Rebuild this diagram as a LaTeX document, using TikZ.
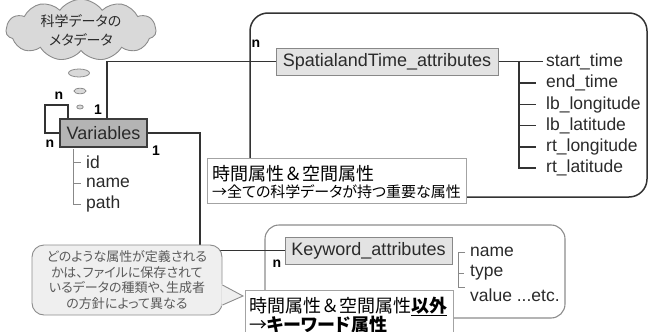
\documentclass[tikz,border=0pt]{standalone}
\usepackage{fontspec}
\setmainfont{Liberation Sans}
\newfontfamily\jp{Noto Sans CJK JP}[RawFeature=+palt]
\newfontfamily\jpf{Noto Sans CJK JP}
\usetikzlibrary{shapes.symbols,shapes.geometric}
\definecolor{linedark}{HTML}{333333}
\definecolor{boxfill}{HTML}{E3E3E3}
\definecolor{boxline}{HTML}{888888}
\definecolor{varfill}{HTML}{B4B4B4}
\definecolor{varline}{HTML}{3C3C3C}
\definecolor{cloudfill}{HTML}{D9D9D9}
\definecolor{softline}{HTML}{8C8C8C}
\definecolor{callfill}{HTML}{EFEFEF}
\definecolor{calltext}{HTML}{5A5A5A}
\definecolor{txt}{HTML}{2A2A2A}
\begin{document}
\begin{tikzpicture}[x=1pt,y=-1pt,
  conn/.style={draw=linedark,line width=1.8pt},
  contA/.style={draw=linedark,line width=1.5pt,rounded corners=18pt},
  contB/.style={draw=softline,line width=1.1pt,rounded corners=14pt},
  attbox/.style={draw=boxline,fill=boxfill,line width=1pt,inner sep=0pt,text=txt,font=\fontsize{18}{20}\selectfont},
  varbox/.style={draw=varline,fill=varfill,line width=1.5pt,inner sep=0pt,text=txt,font=\fontsize{18}{20}\selectfont,minimum width=87pt,minimum height=28pt},
  attr/.style={anchor=west,inner sep=0pt,text=txt,font=\fontsize{17.5}{20}\selectfont},
  darktree/.style={draw=linedark,line width=1.4pt},
  thintree/.style={draw=boxline,line width=0.9pt},
  card/.style={inner sep=0pt,text=black,font=\fontsize{14}{16}\bfseries\selectfont},
  notebox/.style={draw=softline!80,fill=white,line width=0.9pt,anchor=north west,inner sep=0pt},
  noteline/.style={anchor=base west,inner sep=0pt,text=black},
  bubble/.style={ellipse,draw=softline,fill=cloudfill,line width=0.8pt,inner sep=0pt},
  callnode/.style={draw=softline,fill=callfill,line width=0.9pt,rounded corners=12pt,align=center,text=calltext,font=\jp\fontsize{13}{15.7}\selectfont,minimum width=190pt,minimum height=70pt,inner sep=0pt},
  cloudnode/.style={cloud,cloud puffs=11,cloud puff arc=110,aspect=2.8,draw=softline,fill=cloudfill,line width=0.9pt,align=center,text=txt,font=\jp\fontsize{14}{19}\selectfont,minimum width=150pt,minimum height=54pt,inner sep=0pt}
]
\clip (0,0) rectangle (648,332);
% containers
\draw[contA] (250,13) rectangle (647,197);
\draw[contB] (265,225) rectangle (565,318);
% cloud and thought bubbles
\node[cloudnode] (cloud) at (81,30) {科学データの\\メタデータ};
\node[bubble,minimum width=21pt,minimum height=8pt] (b1) at (79,73) {};
\node[bubble,minimum width=12pt,minimum height=5.5pt] (b2) at (80,91) {};
\node[bubble,minimum width=6.5pt,minimum height=4pt] (b3) at (80,107) {};
% main boxes
\node[varbox] (var) at (103.5,133) {Variables};
\node[attbox,minimum width=222pt,minimum height=27pt] (st) at (387,61.5) {SpatialandTime\_attributes};
\node[attbox,minimum width=167pt,minimum height=27pt] (kw) at (368.5,250.5) {Keyword\_attributes};
% connectors
\coordinate (looptl) at (45,105);
\coordinate (vtop) at ([xshift=48pt]var.north west);
\coordinate (vloop) at ([xshift=9pt]var.north west);
\coordinate (kbend) at (200,250.5);
\draw[conn] (vloop) |- (looptl) |- (var.west);
\draw[conn] (vtop) |- (st.west);
\draw[conn] (var.east) -| (kbend) -- (kw.west);
% cardinalities
\node[card] (n1) at (59,96) {n};
\node[card] (o1) at (98,110) {1};
\node[card] (n2) at (50,144) {n};
\node[card] (o2) at (156,151) {1};
\node[card] (n3) at (256,44) {n};
\node[card] (n4) at (277,264) {n};
% Variables attributes
\node[attr] (vid) at (86,162) {id};
\node[attr] (vname) at (86,183) {name};
\node[attr] (vpath) at (86,204) {path};
\coordinate (vt) at (73,149);
\draw[thintree] (vt) |- ([xshift=-5pt]vpath.west);
\draw[thintree] (vt |- vid.west) -- ([xshift=-5pt]vid.west);
\draw[thintree] (vt |- vname.west) -- ([xshift=-5pt]vname.west);
% SpatialandTime attributes
\node[attr] (s1) at (546,61.5) {start\_time};
\node[attr] (s2) at (546,83) {end\_time};
\node[attr] (s3) at (546,104.5) {lb\_longitude};
\node[attr] (s4) at (546,125.5) {lb\_latitude};
\node[attr] (s5) at (546,147) {rt\_longitude};
\node[attr] (s6) at (546,168) {rt\_latitude};
\coordinate (st0) at (519,61.5);
\draw[darktree] (st.east) -- ([xshift=-3pt]s1.west);
\draw[darktree] (st0) |- ([xshift=-10pt]s6.west);
\foreach \s in {s2,s3,s4,s5}{\draw[darktree] (st0 |- \s.west) -- ([xshift=-10pt]\s.west);}
% Keyword attributes
\node[attr] (k1) at (470,252) {name};
\node[attr] (k2) at (470,273) {type};
\node[attr] (k3) at (470,295) {value ...etc.};
\coordinate (kt) at (458,252);
\draw[thintree] ([xshift=-5pt]k1.west) -| (kt) -- (458,287) -- (465,287);
\draw[thintree] (kt |- k2.west) -- ([xshift=-6pt]k2.west);
% note boxes
\node[notebox,minimum width=259pt,minimum height=45pt] (tb1) at (207,158) {};
\node[noteline,font=\jpf\fontsize{18}{18}\selectfont] (tb1a) at (212,180) {時間属性＆空間属性};
\node[noteline,font=\jp\fontsize{15}{18}\selectfont] (tb1b) at (212,197.5) {→全ての科学データが持つ重要な属性};
\node[notebox,minimum width=208pt,minimum height=60pt] (tb2) at (245,290) {};
\node[noteline,font=\jpf\fontsize{18}{18}\selectfont] (tb2a) at (249,312) {時間属性＆空間属性\textbf{\underline{以外}}};
\node[noteline,font=\jp\fontsize{18}{18}\selectfont] (tb2b) at (249,331) {→\textbf{キーワード属性}};
% callout
\node[callnode] (call) at (127,280) {どのような属性が定義される\\かは、ファイルに保存されて\\いるデータの種類や、生成者\\の方針によって異なる};
\coordinate (tip) at (243,296);
\fill[callfill] ([xshift=-1.2pt,yshift=-4pt]call.east) -- (tip) -- ([xshift=-1.2pt,yshift=-26pt]call.east) -- cycle;
\draw[draw=softline,line width=0.9pt] ([yshift=-5pt]call.east) -- (tip) -- ([yshift=-25pt]call.east);
\end{tikzpicture}
\end{document}
